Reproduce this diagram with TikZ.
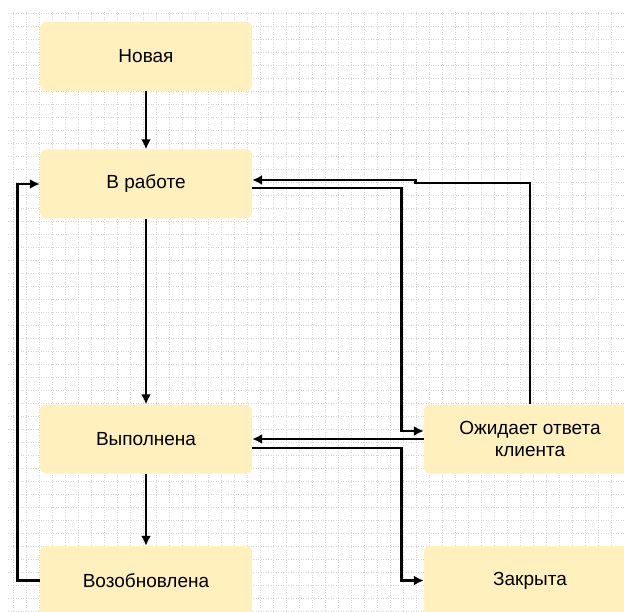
\documentclass[tikz,border=0pt]{standalone}
\usepackage{fontspec}
\setmainfont{Liberation Sans}
\usetikzlibrary{arrows.meta}
\usetikzlibrary{calc}

\definecolor{statefill}{RGB}{255,240,190}
\definecolor{gridgray}{RGB}{215,215,215}

\tikzset{
  state/.style={fill=statefill, rounded corners=6pt, minimum width=212pt, minimum height=69pt,
    inner sep=0.75pt, align=center, font=\fontsize{19}{22}\selectfont},
  flow/.style={line width=2.8pt, -{Latex[length=10pt,width=10pt]}},
}

\begin{document}
\begin{tikzpicture}[x=1pt,y=1pt,yscale=-1]
        \useasboundingbox (0,0) rectangle (624,612);
        \fill [white] (0,0) rectangle (624,612);

        %Grid: dotted background
        \draw [gridgray, dotted, line width=0.5pt, step=13] (8,12) grid (624,612);

        %Shape: Rounded Rect [id:nov]
        \node [state] (nov) at (146,56.5) {Новая};
        %Shape: Rounded Rect [id:rab]
        \node [state] (rab) at (146,184) {В работе};
        %Shape: Rounded Rect [id:vyp]
        \node [state] (vyp) at (146,439) {Выполнена};
        %Shape: Rounded Rect [id:voz]
        \node [state] (voz) at (146,580.5) {Возобновлена};
        %Shape: Rounded Rect [id:ozh]
        \node [state] (ozh) at (530,439) {Ожидает ответа\\клиента};
        %Shape: Rounded Rect [id:zak]
        \node [state] (zak) at (530,580.5) {Закрыта};

        %Connectors: main column
        \draw [flow] (nov) -- (rab);
        \draw [flow] (rab) -- (vyp);
        \draw [flow] (vyp) -- (voz);
        %Connector: reopened back to work
        \draw [flow] (voz.west) -- ++(-22,0) |- (rab.west);
        %Connector: work to waiting
        \draw [flow] ([yshift=4pt]rab.east) -| ([xshift=-22pt,yshift=-8pt]ozh.west) -- ([yshift=-8pt]ozh.west);
        %Connector: waiting back to work
        \draw [flow] (ozh.north) |- ([xshift=163pt,yshift=-1pt]rab.east) -- ([xshift=163pt,yshift=-4pt]rab.east) -- ([yshift=-4pt]rab.east);
        %Connector: waiting to done
        \draw [flow] (ozh.west) -- (vyp.east);
        %Connector: done to closed
        \draw [flow] ([yshift=9pt]vyp.east) -| ([xshift=-22pt]zak.west) -- (zak.west);

    \end{tikzpicture}
\end{document}
